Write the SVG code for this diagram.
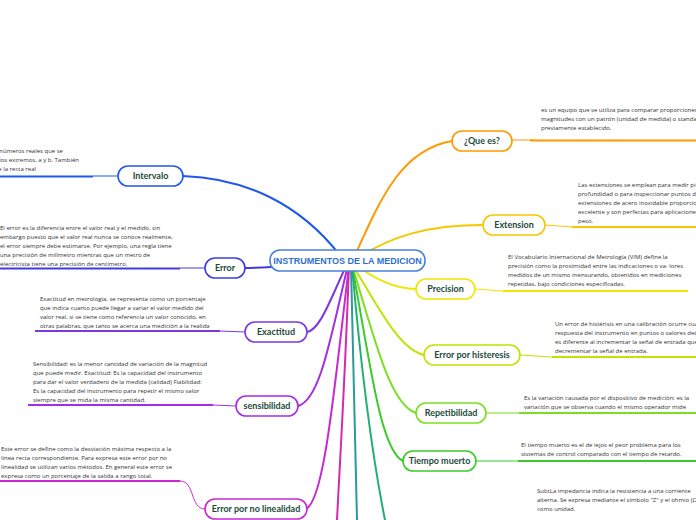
<svg xmlns="http://www.w3.org/2000/svg" width="696" height="520" viewBox="0 0 696 520">
<style>
.t{font-family:"Open Sans","Liberation Sans",sans-serif;font-size:6px;fill:#333}
.n{font-family:"Lato","Liberation Sans",sans-serif;font-size:9px;font-weight:bold;fill:#1d4a3a;text-anchor:middle}
.box{fill:#fff;stroke-width:1.6}
.c{fill:none;stroke-width:2;stroke-linecap:round}
.u{fill:none;stroke-width:2.2}
.k{fill:none;stroke-width:1}
</style>
<rect width="696" height="520" fill="#fff"/>
<g id="connectors">
<path class="c" stroke="#ff9a00" d="M352,262 C380,200 400,150 452,141"/>
<path class="c" stroke="#f5c800" d="M352,262 C390,235 430,225 483,225"/>
<path class="c" stroke="#f0e600" d="M352,262 C375,280 395,289 416,289"/>
<path class="c" stroke="#c0e400" d="M352,264 C380,310 400,350 424,355"/>
<path class="c" stroke="#7adf20" d="M352,265 C375,340 390,405 416,413"/>
<path class="c" stroke="#3acb2a" d="M352,266 C370,360 380,450 403,461"/>
<path class="c" stroke="#22b070" d="M352,266 C362,380 375,470 385,520"/>
<path class="c" stroke="#2a9a9a" d="M351,266 C354,380 356,460 357,520"/>
<path class="c" stroke="#2257ee" d="M345,262 C300,200 240,178 183,176"/>
<path class="c" stroke="#3e3ee0" d="M345,263 C300,265 270,268 245,268"/>
<path class="c" stroke="#7a3ae0" d="M347,264 C330,300 320,330 307,332"/>
<path class="c" stroke="#a52ee0" d="M348,265 C330,340 320,400 298,406"/>
<path class="c" stroke="#c72ad0" d="M349,266 C335,380 325,500 306,509"/>
<path class="c" stroke="#d42ab0" d="M349,266 C345,380 340,460 337,520"/>
<path class="k" stroke="#ff9a00" d="M512,140 L535,140"/>
<path class="u" stroke="#ff9a00" d="M530,140.5 L696,140.5"/>
<path class="k" stroke="#f5c800" d="M545,225 L573,227"/>
<path class="u" stroke="#f5c800" d="M572,227 L696,227"/>
<path class="k" stroke="#f0e600" d="M475,289 L503,291"/>
<path class="u" stroke="#f0e600" d="M503,291 L688,291"/>
<path class="k" stroke="#c0e400" d="M520,355 L552,357"/>
<path class="u" stroke="#c0e400" d="M552,357 L696,357"/>
<path class="k" stroke="#7adf20" d="M486,413 L519,413"/>
<path class="u" stroke="#7adf20" d="M519,413 L696,413"/>
<path class="k" stroke="#3acb2a" d="M476,461 L518,461"/>
<path class="u" stroke="#3acb2a" d="M518,461 L696,461"/>
<path class="k" stroke="#2257ee" d="M118,176 L93,176"/>
<path class="u" stroke="#2257ee" d="M0,176.5 L93,176.5"/>
<path class="k" stroke="#3e3ee0" d="M205,268 L180,268"/>
<path class="u" stroke="#3e3ee0" d="M0,268.5 L180,268.5"/>
<path class="k" stroke="#7a3ae0" d="M245,332 L220,331"/>
<path class="u" stroke="#7a3ae0" d="M35,331 L220,331"/>
<path class="k" stroke="#a52ee0" d="M236,406 L213,405"/>
<path class="u" stroke="#a52ee0" d="M28,405 L213,405"/>
<path class="k" stroke="#c72ad0" d="M205,509 C190,509 195,481 180,481"/>
<path class="u" stroke="#c72ad0" d="M0,481 L180,481"/>
</g>
<g id="center">
<rect class="box" x="270" y="250" width="155" height="21" rx="10" stroke="#4a80dc"/>
<text x="347.5" y="264" text-anchor="middle" style="font-family:'Liberation Sans',sans-serif;font-size:9px;font-weight:bold;fill:#2f6fd0">INSTRUMENTOS DE LA MEDICION</text>
</g>
<g id="n-quees"><rect class="box" x="452" y="131" width="60" height="20" rx="10" stroke="#ff9a00"/><text class="n" x="482" y="144">¿Que es?</text>
<text class="t" x="541" y="112"> es un equipo que se utiliza para comparar proporciones</text>
<text class="t" x="541" y="121">magnitudes con un patrón (unidad de medida) o standar</text>
<text class="t" x="541" y="130">previamente establecido.</text></g>
<g id="n-extension"><rect class="box" x="483" y="215" width="62" height="20" rx="10" stroke="#f5c800"/><text class="n" x="514" y="228">Extension</text>
<text class="t" x="578" y="187">Las extensiones se emplean para medir piezas</text>
<text class="t" x="578" y="196">profundidad o para inspeccionar puntos de</text>
<text class="t" x="578" y="205">extensiones de acero inoxidable proporcionan</text>
<text class="t" x="578" y="214">excelente y son perfectas para aplicaciones</text>
<text class="t" x="578" y="223">peso.</text></g>
<g id="n-precision"><rect class="box" x="416" y="279" width="59" height="20" rx="10" stroke="#f0e600"/><text class="n" x="445.5" y="292">Precision</text>
<text class="t" x="508" y="259">El Vocabulario Internacional de Metrología (VIM) define la</text>
<text class="t" x="508" y="268">precisión como la proximidad entre las indicaciones o va- lores</text>
<text class="t" x="508" y="277">medidos de un mismo mensurando, obtenidos en mediciones</text>
<text class="t" x="508" y="286">repetidas, bajo condiciones especificadas.</text></g>
<g id="n-histeresis"><rect class="box" x="424" y="345" width="96" height="20" rx="10" stroke="#c0e400"/><text class="n" x="472" y="358">Error por histeresis</text>
<text class="t" x="555" y="326">Un error de histérisis en una calibración ocurre cuando la</text>
<text class="t" x="555" y="335">respuesta del instrumento en puntos o valores determinados</text>
<text class="t" x="555" y="344">es diferente al incrementar la señal de entrada que al</text>
<text class="t" x="555" y="353">decrementar la señal de entrada.</text></g>
<g id="n-repetibilidad"><rect class="box" x="416" y="403" width="70" height="20" rx="10" stroke="#7adf20"/><text class="n" x="451" y="416">Repetibilidad</text>
<text class="t" x="524" y="400">Es la variación causada por el dispositivo de medición; es la</text>
<text class="t" x="524" y="409">variación que se observa cuando el mismo operador mide</text></g>
<g id="n-tiempo"><rect class="box" x="403" y="451" width="73" height="20" rx="10" stroke="#3acb2a"/><text class="n" x="439.5" y="464">Tiempo muerto</text>
<text class="t" x="521" y="447">El tiempo muerto es el de lejos el peor problema para los</text>
<text class="t" x="521" y="456">sistemas de control comparado con el tiempo de retardo.</text></g>
<g id="n-subt">
<text class="t" x="537" y="493">SubtLa impedancia indica la resistencia a una corriente</text>
<text class="t" x="537" y="502">alterna. Se expresa mediante el símbolo "Z" y el ohmio (Ω)</text>
<text class="t" x="537" y="511">como unidad.</text></g>
<g id="n-intervalo"><rect class="box" x="118" y="166" width="65" height="20" rx="10" stroke="#2257ee"/><text class="n" x="150.5" y="179">Intervalo</text>
<text class="t" x="63" y="153" text-anchor="end">números reales que se</text>
<text class="t" x="79" y="162" text-anchor="end">dos extremos, a y b. También</text>
<text class="t" x="36" y="171" text-anchor="end">e la recta real</text></g>
<g id="n-error"><rect class="box" x="205" y="258" width="40" height="20" rx="10" stroke="#3e3ee0"/><text class="n" x="225" y="271">Error</text>
<text class="t" x="0" y="230">El error es la diferencia entre el valor real y el medido, sin</text>
<text class="t" x="0" y="239">embargo puesto que el valor real nunca se conoce realmente,</text>
<text class="t" x="0" y="248">el error siempre debe estimarse. Por ejemplo, una regla tiene</text>
<text class="t" x="0" y="257">una precisión de milímetro mientras que un metro de</text>
<text class="t" x="0" y="266">electricista tiene una precisión de centímetro.</text></g>
<g id="n-exactitud"><rect class="box" x="245" y="322" width="62" height="20" rx="10" stroke="#7a3ae0"/><text class="n" x="276" y="335">Exactitud</text>
<text class="t" x="40" y="301">Exactitud en metrología, se representa como un porcentaje</text>
<text class="t" x="40" y="310">que indica cuanto puede llegar a variar el valor medido del</text>
<text class="t" x="40" y="319">valor real, si se tiene como referencia un valor conocido, en</text>
<text class="t" x="40" y="328">otras palabras, que tanto se acerca una medición a la realida</text></g>
<g id="n-sensibilidad"><rect class="box" x="236" y="396" width="62" height="20" rx="10" stroke="#a52ee0"/><text class="n" x="267" y="409">sensibilidad</text>
<text class="t" x="33" y="366">Sensibilidad: es la menor cantidad de variación de la magnitud</text>
<text class="t" x="33" y="375">que puede medir. Exactitud: Es la capacidad del instrumento</text>
<text class="t" x="33" y="384">para dar el valor verdadero de la medida (calidad) Fiabilidad:</text>
<text class="t" x="33" y="393">Es la capacidad del instrumento para repetir el mismo valor</text>
<text class="t" x="33" y="402">siempre que se mida la misma cantidad.</text></g>
<g id="n-nolineal"><rect class="box" x="205" y="499" width="102" height="20" rx="10" stroke="#c72ad0"/><text class="n" x="256" y="512">Error por no linealidad</text>
<text class="t" x="1" y="451">Este error se define como la desviación máxima respecto a la</text>
<text class="t" x="1" y="460">línea recta correspondiente. Para expresa este error por no</text>
<text class="t" x="1" y="469">linealidad se utilizan varios métodos. En general este error se</text>
<text class="t" x="1" y="478">expresa como un porcentaje de la salida a rango total.</text></g>
</svg>
